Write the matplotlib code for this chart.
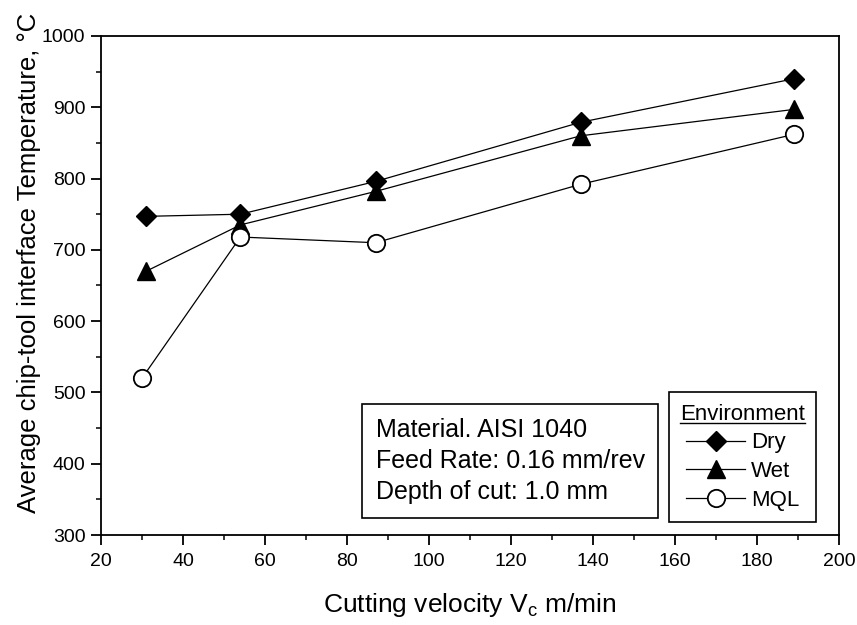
import matplotlib
matplotlib.use("Agg")
import matplotlib.pyplot as plt
from matplotlib.ticker import MultipleLocator
from matplotlib.lines import Line2D

plt.rcParams['font.family'] = ['Liberation Sans', 'DejaVu Sans']

velocity_dry = [31, 54, 87, 137, 189]
temp_dry = [747, 750, 796, 879, 940]
velocity_wet = [31, 54, 87, 137, 189]
temp_wet = [670, 735, 782, 860, 897]
velocity_mql = [30, 54, 87, 137, 189]
temp_mql = [520, 718, 710, 792, 862]

fig = plt.figure(figsize=(8.57, 6.25), dpi=100)
ax = fig.add_axes([101 / 857, 1 - 535 / 625, 738 / 857, 499 / 625])

ax.plot(velocity_dry, temp_dry, '-', color='black', lw=0.9, marker='D', ms=10,
        mfc='black', mec='black', label='Dry')
ax.plot(velocity_wet, temp_wet, '-', color='black', lw=0.9, marker='^', ms=13,
        mfc='black', mec='black', label='Wet')
ax.plot(velocity_mql, temp_mql, '-', color='black', lw=0.9, marker='o', ms=12.5,
        mfc='white', mec='black', mew=1.3, label='MQL')

ax.set_xlim(20, 200)
ax.set_ylim(300, 1000)
ax.xaxis.set_major_locator(MultipleLocator(20))
ax.xaxis.set_minor_locator(MultipleLocator(10))
ax.yaxis.set_major_locator(MultipleLocator(100))
ax.yaxis.set_minor_locator(MultipleLocator(50))
ax.tick_params(which='major', direction='out', length=7.2, width=1.3, labelsize=14)
ax.tick_params(axis='x', which='major', pad=6)
ax.tick_params(axis='y', which='major', pad=4)
ax.tick_params(which='minor', direction='out', length=3.6, width=1.1)
for s in ax.spines.values():
    s.set_linewidth(1.3)

ax.set_xlabel(r'Cutting velocity V$_\mathregular{c}$ m/min', fontsize=19, va='center')
ax.xaxis.set_label_coords(0.5, -0.140)
ax.set_ylabel('Average chip-tool interface Temperature, °C', fontsize=18.5, va='center')
ax.yaxis.set_label_coords(-0.0976, 0.545)

ax.text(0.372, 0.148,
        'Material. AISI 1040\nFeed Rate: 0.16 mm/rev\nDepth of cut: 1.0 mm',
        transform=ax.transAxes, fontsize=18, va='center', ha='left',
        linespacing=1.38,
        bbox=dict(boxstyle='square,pad=0.55', fc='white', ec='black', lw=1.2))

leg = ax.legend(loc='lower right', bbox_to_anchor=(0.969, 0.026), fontsize=16,
                title='Environment', title_fontsize=16, frameon=True,
                fancybox=False, edgecolor='black', handlelength=2.65,
                handletextpad=0.25, borderpad=0.5, labelspacing=0.35,
                borderaxespad=0, framealpha=1)
leg.get_frame().set_linewidth(1.2)

fig.canvas.draw()
tb = leg.get_title().get_window_extent(fig.canvas.get_renderer())
inv = fig.transFigure.inverted()
(x0, y0), (x1, y1) = inv.transform([(tb.x0, tb.y0), (tb.x1, tb.y0)])
fig.add_artist(Line2D([x0, x1], [y0 + 0.003, y0 + 0.003], color='black', lw=1.0,
                      transform=fig.transFigure))

fig.savefig('out.png', dpi=100)
